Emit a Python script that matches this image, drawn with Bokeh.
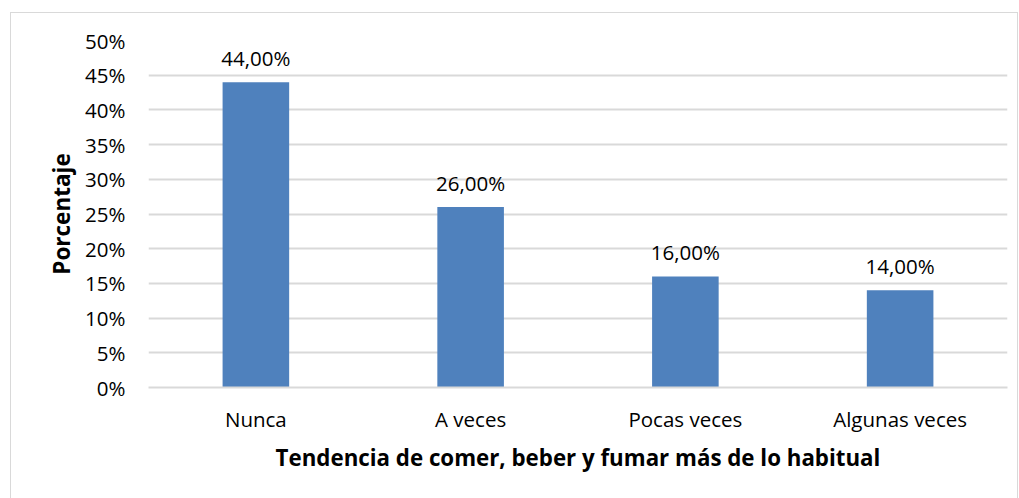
from bokeh.plotting import figure
from bokeh.models import ColumnDataSource, NumeralTickFormatter, SingleIntervalTicker, Range1d
from bokeh.core.properties import value
from bokeh.embed import file_html
from bokeh.resources import INLINE

categories = ["Nunca", "A veces", "Pocas veces", "Algunas veces"]
values = [0.44, 0.26, 0.16, 0.14]
labels = ["44,00%", "26,00%", "16,00%", "14,00%"]

FONT = "Open Sans"
src = ColumnDataSource(dict(cat=categories, val=values, lab=labels))

p = figure(x_range=categories, y_range=Range1d(0, 0.5), width=1008, height=486,
           output_backend="svg", toolbar_location=None,
           min_border_left=137, min_border_right=12, min_border_top=27, min_border_bottom=112)
p.styles = {"border": "1px solid #d9d9d9", "border-bottom": "none",
            "margin-left": "10px", "margin-top": "12px"}
p.outline_line_color = None
p.background_fill_color = "white"

p.vbar(x="cat", top="val", width=0.31, source=src, fill_color="#4f81bd", line_color=None)
p.text(x="cat", y="val", text="lab", source=src, text_align="center", text_baseline="alphabetic",
       y_offset=-24, text_font=value(FONT), text_font_size="20.5px", text_color="#000000")

p.yaxis.ticker = SingleIntervalTicker(interval=0.05)
p.yaxis.formatter = NumeralTickFormatter(format="0%")
p.yaxis.axis_line_color = None
p.yaxis.major_tick_line_color = None
p.yaxis.minor_tick_line_color = None
p.yaxis.major_label_standoff = 17
p.yaxis.major_label_text_font = FONT
p.yaxis.major_label_text_font_size = "20.5px"
p.yaxis.major_label_text_color = "#000000"
p.yaxis.axis_label = "Porcentaje"
p.yaxis.axis_label_text_font = FONT
p.yaxis.axis_label_text_font_size = "22.5px"
p.yaxis.axis_label_text_font_style = "bold"
p.yaxis.axis_label_text_color = "#000000"
p.yaxis.axis_label_standoff = 5

p.xaxis.axis_line_color = "#d9d9d9"
p.xaxis.axis_line_width = 2
p.xaxis.major_tick_line_color = None
p.xaxis.minor_tick_line_color = None
p.xaxis.major_label_standoff = 11
p.xaxis.major_label_text_font = FONT
p.xaxis.major_label_text_font_size = "20.5px"
p.xaxis.major_label_text_color = "#000000"
p.xaxis.axis_label = "Tendencia de comer, beber y fumar más de lo habitual"
p.xaxis.axis_label_text_font = FONT
p.xaxis.axis_label_text_font_size = "22.3px"
p.xaxis.axis_label_text_font_style = "bold"
p.xaxis.axis_label_text_color = "#000000"
p.xaxis.axis_label_standoff = 6

p.xgrid.grid_line_color = None
p.ygrid.grid_line_color = "#d9d9d9"
p.ygrid.grid_line_width = 2

open("out.html", "w").write(file_html(p, INLINE))
